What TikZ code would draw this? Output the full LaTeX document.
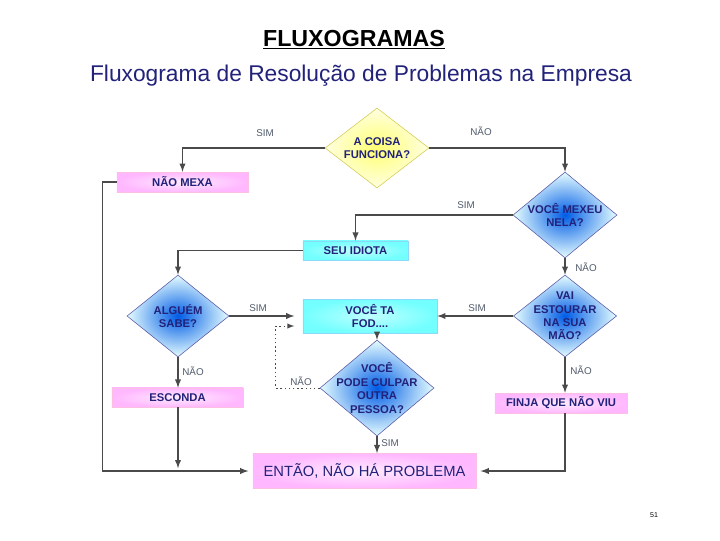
\documentclass[tikz,border=0pt]{standalone}
\usepackage{fontspec}
\setmainfont{Liberation Sans}
\usetikzlibrary{arrows}
\usetikzlibrary{shapes.geometric}
\usetikzlibrary{positioning}

\definecolor{azulescuro}{HTML}{22227A}
\definecolor{linha}{HTML}{4A4A4A}
\definecolor{rotulocor}{HTML}{505A6A}

\begin{document}
\begin{tikzpicture}[x=0.025cm, y=-0.025cm, >=latex]
  \tikzstyle{decisao} = [diamond, draw=gray!70!blue, inner sep=-9pt, aspect=1.2, align=center,
    text=azulescuro, font=\bfseries\fontsize{8}{9.5}\selectfont]
  \tikzstyle{azul} = [decisao, inner color=blue!60!cyan!90!black, outer color=blue!8!cyan!10]
  \tikzstyle{amarelo} = [decisao, draw=yellow!60!gray, inner color=yellow!55, outer color=yellow!12]
  \tikzstyle{caixa} = [rectangle, inner sep=0pt, align=center, text=azulescuro,
    font=\bfseries\fontsize{8}{9.5}\selectfont]
  \tikzstyle{rosa} = [caixa, draw=magenta!25, inner color=magenta!8, outer color=magenta!28]
  \tikzstyle{ciano} = [caixa, draw=cyan!45, inner color=cyan!25, outer color=cyan!55]
  \tikzstyle{rotulo} = [text=rotulocor, font=\fontsize{7}{8}\selectfont]
  \tikzstyle{seta} = [->, draw=linha, line width=1pt]

  \useasboundingbox (0,0) rectangle (720,540);

  % Titulos
  \node[font=\bfseries\fontsize{16.5}{19}\selectfont] (titulo) at (354,40) {\underline{FLUXOGRAMAS}};
  \node[text=azulescuro, font=\fontsize{16.2}{19}\selectfont] (subtitulo) at (361,76)
    {Fluxograma de Resolução de Problemas na Empresa};

  % Decisoes
  \node[amarelo, minimum width=2.6cm, minimum height=2cm] (coisa) at (377,148) {A COISA\\FUNCIONA?};
  \node[azul, minimum width=2.6cm, minimum height=2.15cm] (mexeu) at (565,215) {VOCÊ MEXEU\\NELA?};
  \node[azul, minimum width=2.55cm, minimum height=2.05cm] (alguem) at (178,316) {ALGUÉM\\SABE?};
  \node[azul, minimum width=2.58cm, minimum height=2.05cm] (estourar) at (565,316) {VAI\\ESTOURAR\\NA SUA\\MÃO?};
  \node[azul, minimum width=2.85cm, minimum height=2.4cm] (pode) at (377,388) {VOCÊ\\PODE CULPAR\\OUTRA\\PESSOA?};

  % Caixas
  \node[rosa, minimum width=3.28cm, minimum height=0.5cm] (naomexa) at (182.5,182) {NÃO MEXA};
  \node[ciano, minimum width=2.63cm, minimum height=0.48cm] (idiota) at (355.5,250.5) {SEU IDIOTA};
  \node[ciano, minimum width=3.35cm, minimum height=0.85cm] (fod) at (370,316) {VOCÊ TA\\FOD....};
  \node[rosa, minimum width=3.28cm, minimum height=0.48cm] (esconda) at (177.5,397.5) {ESCONDA};
  \node[rosa, minimum width=3.3cm, minimum height=0.5cm] (finja) at (561,403) {FINJA QUE NÃO VIU};
  \node[rosa, minimum width=5.58cm, minimum height=0.88cm, font=\fontsize{10.5}{12}\selectfont] (entao)
    at (364.5,471) {ENTÃO, NÃO HÁ PROBLEMA};

  % Ligacoes
  \draw[seta] (coisa.west) -| (naomexa.north);
  \draw[seta] (coisa.east) -| (mexeu.north);
  \draw[seta] (mexeu.west) -| (idiota.north);
  \draw[seta] (idiota.west) -| (alguem.north);
  \draw[seta, shorten >=6pt] (alguem.east) -- (fod.west);
  \draw[seta] (mexeu.south) -- (estourar.north);
  \draw[seta] (estourar.west) -- (fod.east);
  \draw[seta] (estourar.south) -- (finja.north -| estourar.south);
  \draw[seta] (fod.south -| pode.north) -- (pode.north);
  \draw[seta, dotted, line width=0.7pt, shorten >=6pt] (pode.west) -- ++(-44,0) |- ([yshift=-0.25cm]fod.west);
  \draw[seta] (pode.south) -- (entao.north -| pode.south);
  \draw[seta] (alguem.south) -- (esconda.north -| alguem.south);
  \draw[seta, shorten >=2pt] (esconda.south -| alguem.south) -- (alguem.south |- entao.west);
  \draw[seta, shorten >=3pt] (naomexa.west) -- ++(-14,0) |- (entao.west);
  \draw[seta, shorten >=3pt] (finja.south -| estourar.south) |- (entao.east);

  % Rotulos
  \node[rotulo] (r1) at (265,133) {SIM};
  \node[rotulo] (r2) at (481,131) {NÃO};
  \node[rotulo] (r3) at (466,205) {SIM};
  \node[rotulo] (r4) at (586,267) {NÃO};
  \node[rotulo] (r5) at (258,308) {SIM};
  \node[rotulo] (r6) at (477,308) {SIM};
  \node[rotulo] (r7) at (193,371) {NÃO};
  \node[rotulo] (r8) at (581,370) {NÃO};
  \node[rotulo] (r9) at (301,381) {NÃO};
  \node[rotulo] (r10) at (390,443) {SIM};

  \node[font=\fontsize{5}{6}\selectfont] (pagina) at (654,515) {51};
\end{tikzpicture}
\end{document}
